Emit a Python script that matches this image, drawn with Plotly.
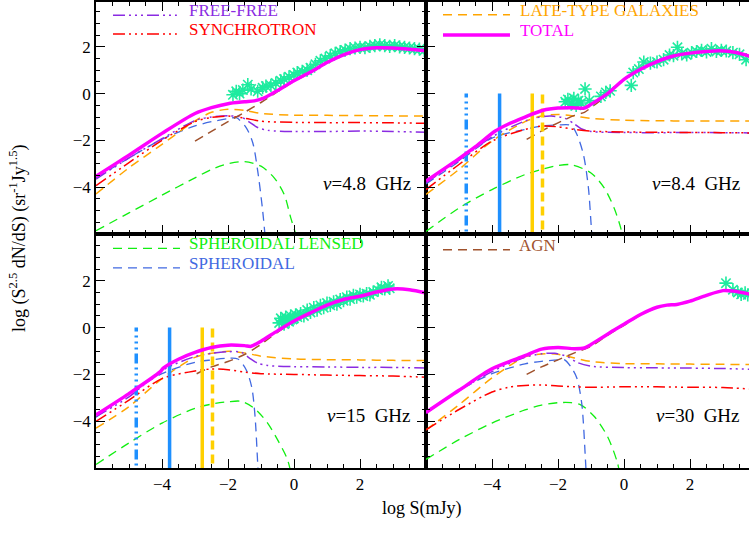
import plotly.graph_objects as go
from plotly.subplots import make_subplots

# ---------------- DATA ----------------
# 4.8 GHz panel
x_tot_48 = [-6, -5, -4, -3, -2.5, -2, -1.5, -1.2, -0.9, -0.5, 0, 0.5, 1, 1.5, 2, 2.5, 3, 3.5, 4]
y_tot_48 = [-3.53, -2.63, -1.7, -0.85, -0.6, -0.43, -0.35, -0.31, -0.18, 0.13, 0.55, 0.92, 1.33, 1.66, 1.88, 1.96, 1.95, 1.9, 1.83]
x_late_48 = [-6, -5, -4, -3, -2.5, -2, -1.5, -1, 0, 1, 2, 3, 4]
y_late_48 = [-4.29, -3.17, -2.17, -1.17, -0.8, -0.67, -0.72, -0.85, -0.92, -0.93, -0.94, -0.95, -0.96]
x_free_48 = [-6, -5, -4, -3, -2.5, -2, -1.6, -1.35, -1.1, -0.8, 0, 1, 2, 3, 4]
y_free_48 = [-3.65, -2.75, -1.93, -1.15, -1.0, -0.95, -1.0, -1.22, -1.45, -1.57, -1.62, -1.62, -1.6, -1.62, -1.65]
x_sync_48 = [-6, -5, -4, -3, -2.5, -2, -1.5, -1, 0, 1, 2, 3, 4]
y_sync_48 = [-3.93, -2.95, -2.0, -1.2, -1.02, -0.96, -1.05, -1.18, -1.23, -1.24, -1.24, -1.25, -1.27]
x_sph_48 = [-6, -5, -4, -3, -2.5, -2, -1.75, -1.45, -1.25, -1.1, -0.95, -0.85]
y_sph_48 = [-3.6, -2.75, -1.95, -1.38, -1.2, -1.07, -1.03, -1.45, -2.1, -3.3, -5.0, -6.5]
x_lens_48 = [-6, -5, -4, -3, -2.5, -2, -1.5, -1, -0.6, -0.3, -0.1, 0.05, 0.15]
y_lens_48 = [-5.86, -5.1, -4.34, -3.6, -3.24, -3.0, -2.91, -3.1, -3.6, -4.3, -5.3, -6.0, -6.6]
x_agn_48 = [-3, -2, -1.5, -1, -0.5, 0, 0.5, 1, 1.5, 2, 2.5, 3, 3.5, 4]
y_agn_48 = [-2.03, -1.2, -0.8, -0.38, 0.08, 0.52, 0.9, 1.31, 1.64, 1.86, 1.94, 1.93, 1.88, 1.81]
x_obs_48 = [-1.85, -1.75, -1.65, -1.55, -1.4, -1.3, -1.1, -0.95, -0.85, -0.7, -0.55, -0.4, -0.3,
            -0.15, 0.0, 0.1, 0.25, 0.4, 0.5, 0.65, 0.8, 0.95, 1.1, 1.25, 1.4, 1.55, 1.7, 1.85,
            2.0, 2.15, 2.3, 2.45, 2.6, 2.75, 2.9, 3.05, 3.2, 3.35, 3.5, 3.65, 3.8, 3.95]
y_obs_48 = [-0.05, 0.1, 0.0, 0.15, 0.38, 0.2, 0.1, 0.25, 0.32, 0.35, 0.45, 0.55, 0.62,
            0.72, 0.8, 0.9, 0.95, 1.0, 1.1, 1.25, 1.4, 1.5, 1.62, 1.72, 1.8, 1.86, 1.92, 1.95,
            1.98, 1.96, 2.02, 2.05, 2.08, 2.05, 2.02, 2.05, 2.0, 1.98, 1.95, 1.92, 1.9, 1.85]

# 8.4 GHz panel
x_tot_84 = [-6, -5, -4.5, -3.9, -3.5, -3, -2.45, -2, -1.5, -1.2, -1, -0.5, 0, 0.5, 1, 1.5, 2, 2.5, 2.9, 3.4, 3.8]
y_tot_84 = [-3.74, -2.78, -2.27, -1.6, -1.3, -1.0, -0.71, -0.62, -0.61, -0.62, -0.46, 0.0, 0.61, 1.04, 1.37, 1.61, 1.73, 1.8, 1.83, 1.76, 1.6]
x_late_84 = [-6, -5, -4, -3, -2.5, -2, -1.5, -1, 0, 1, 2, 3, 3.8]
y_late_84 = [-4.31, -3.24, -2.03, -1.2, -0.96, -0.89, -0.96, -1.06, -1.14, -1.16, -1.17, -1.17, -1.17]
x_free_84 = [-6, -5, -4, -3, -2.5, -2.2, -1.8, -1.5, -1.3, -1, 0, 1, 2, 3, 3.8]
y_free_84 = [-3.81, -2.85, -1.85, -1.17, -0.99, -0.96, -1.05, -1.3, -1.5, -1.62, -1.66, -1.67, -1.66, -1.67, -1.68]
x_sync_84 = [-6, -5, -4, -3, -2.5, -2, -1.5, -1, 0, 1, 2, 3, 3.8]
y_sync_84 = [-4.1, -3.03, -2.03, -1.53, -1.39, -1.42, -1.53, -1.6, -1.64, -1.65, -1.66, -1.67, -1.68]
x_sph_84 = [-6, -5, -4, -3, -2.5, -2, -1.6, -1.43, -1.23, -1.08, -0.98, -0.9]
y_sph_84 = [-3.86, -2.9, -1.9, -1.53, -1.39, -1.34, -1.36, -1.74, -2.6, -4.0, -5.9, -7.0]
x_lens_84 = [-6, -5, -4, -3, -2.5, -2, -1.6, -1, -0.6, -0.3, -0.1, 0.0]
y_lens_84 = [-5.89, -4.89, -4.1, -3.46, -3.24, -3.07, -3.04, -3.39, -4.03, -4.89, -5.74, -6.5]
x_agn_84 = [-2.95, -2.5, -2, -1.5, -1.2, -1, -0.5, 0, 0.5, 1, 1.5, 2, 2.5, 2.9, 3.4, 3.8]
y_agn_84 = [-1.96, -1.6, -1.25, -0.93, -0.8, -0.6, -0.05, 0.58, 1.02, 1.36, 1.6, 1.72, 1.79, 1.82, 1.75, 1.59]
x_obs_84 = [-1.78, -1.7, -1.6, -1.52, -1.45, -1.38, -1.3, -1.18, -1.05, -0.7, -0.55, -0.42, 0.22,
            0.28, 0.45, 0.6, 0.8, 1.0, 1.2, 1.38, 1.5, 1.62, 1.75, 1.9, 2.05, 2.2, 2.35, 2.5,
            2.65, 2.8, 2.95, 3.1, 3.3, 3.5, 3.7]
y_obs_84 = [-0.35, -0.25, -0.45, -0.2, -0.5, -0.3, -0.4, 0.2, -0.3, -0.12, 0.05, 0.12, 0.35,
            0.9, 1.05, 1.35, 1.3, 1.35, 1.45, 1.65, 1.62, 1.98, 1.7, 1.65, 1.75, 1.8, 1.85, 1.78,
            1.92, 1.8, 1.85, 1.82, 1.75, 1.68, 1.45]

# 15 GHz panel
x_tot_15 = [-6, -5, -4.05, -3.95, -3.5, -3, -2.5, -2, -1.5, -1.3, -1, -0.5, 0, 0.5, 1, 1.5, 2, 2.5, 3, 3.5, 4]
y_tot_15 = [-3.73, -2.82, -1.88, -1.72, -1.35, -1.06, -0.85, -0.75, -0.77, -0.8, -0.58, -0.14, 0.28, 0.63, 0.96, 1.2, 1.34, 1.52, 1.65, 1.62, 1.48]
x_late_15 = [-6, -5, -4, -3, -2.5, -2, -1.5, -1, 0, 1, 2, 3, 4]
y_late_15 = [-4.3, -3.38, -2.18, -1.27, -1.1, -1.01, -1.08, -1.22, -1.34, -1.37, -1.38, -1.4, -1.41]
x_free_15 = [-6, -5, -4, -3, -2.5, -2, -1.6, -1.35, -1.1, -0.8, 0, 1, 2, 3, 4]
y_free_15 = [-3.8, -2.96, -1.83, -1.24, -1.1, -1.03, -1.05, -1.3, -1.52, -1.62, -1.67, -1.68, -1.7, -1.7, -1.73]
x_sync_15 = [-6, -5, -4, -3, -2.5, -2, -1.5, -1, 0, 1, 2, 3, 4]
y_sync_15 = [-4.01, -3.1, -2.18, -1.85, -1.77, -1.8, -1.9, -1.97, -2.0, -2.03, -2.05, -2.07, -2.12]
x_sph_15 = [-6, -5, -4, -3, -2.5, -2, -1.7, -1.45, -1.28, -1.18, -1.1, -1.05]
y_sph_15 = [-3.83, -2.82, -1.97, -1.48, -1.38, -1.31, -1.34, -1.8, -2.55, -3.8, -5.8, -7.0]
x_lens_15 = [-6, -5, -4, -3, -2.5, -2, -1.6, -1.2, -0.8, -0.5, -0.2, -0.05]
y_lens_15 = [-5.85, -4.93, -4.08, -3.45, -3.27, -3.17, -3.15, -3.45, -4.08, -4.79, -5.63, -6.5]
x_agn_15 = [-2.95, -2.5, -2, -1.5, -1, -0.8, -0.5, 0, 0.5, 1, 1.5, 2, 2.5, 3, 3.5, 4]
y_agn_15 = [-1.97, -1.68, -1.45, -1.15, -0.72, -0.5, -0.2, 0.25, 0.61, 0.95, 1.19, 1.33, 1.51, 1.64, 1.61, 1.47]
x_obs_15 = [-0.45, -0.4, -0.35, -0.3, -0.25, -0.2, -0.15, -0.1, -0.05, 0.0, 0.05, 0.1, 0.2, 0.3,
            0.4, 0.5, 0.6, 0.7, 0.8, 0.9, 1.0, 1.1, 1.2, 1.3, 1.4, 1.5, 1.6, 1.7, 1.8, 1.9,
            2.0, 2.1, 2.2, 2.3, 2.4, 2.55, 2.65, 2.75, 2.85, 2.9]
y_obs_15 = [0.2, 0.4, 0.3, 0.15, 0.45, 0.3, 0.25, 0.5, 0.35, 0.4, 0.55, 0.45, 0.6, 0.5,
            0.75, 0.65, 0.85, 0.75, 0.95, 0.85, 1.05, 0.95, 1.1, 1.0, 1.2, 1.15, 1.3, 1.22, 1.38, 1.3,
            1.42, 1.35, 1.45, 1.4, 1.52, 1.6, 1.72, 1.65, 1.78, 1.68]

# 30 GHz panel
x_tot_30 = [-6, -5, -4, -3, -2.5, -2, -1.5, -1.2, -1, -0.5, 0, 0.5, 1, 1.3, 1.6, 2, 2.5, 3, 3.3, 3.8]
y_tot_30 = [-3.63, -2.68, -1.76, -1.2, -0.92, -0.85, -0.9, -0.87, -0.72, -0.28, 0.14, 0.56, 0.87, 0.96, 0.99, 1.13, 1.38, 1.58, 1.56, 1.43]
x_late_30 = [-6, -5, -4, -3, -2.5, -2, -1.5, -1, 0, 1, 2, 3, 3.8]
y_late_30 = [-4.37, -3.3, -2.15, -1.25, -1.13, -1.14, -1.3, -1.45, -1.54, -1.55, -1.56, -1.57, -1.58]
x_free_30 = [-6, -5, -4, -3, -2.5, -2.1, -1.7, -1.4, -1, 0, 1, 2, 3, 3.8]
y_free_30 = [-3.66, -2.7, -1.88, -1.27, -1.12, -1.1, -1.25, -1.5, -1.65, -1.71, -1.72, -1.73, -1.75, -1.78]
x_sync_30 = [-6, -5, -4, -3.5, -3, -2.5, -2, -1.5, -1, 0, 1, 2, 3, 3.8]
y_sync_30 = [-4.37, -3.5, -2.75, -2.55, -2.47, -2.45, -2.5, -2.53, -2.55, -2.53, -2.53, -2.55, -2.56, -2.62]
x_sph_30 = [-6, -5, -4, -3, -2.5, -2, -1.8, -1.6, -1.43, -1.28, -1.17, -1.12]
y_sph_30 = [-3.59, -2.68, -1.97, -1.55, -1.44, -1.38, -1.38, -1.7, -2.15, -3.25, -5.6, -7.0]
x_lens_30 = [-6, -5, -4, -3, -2.5, -2, -1.6, -1.3, -0.9, -0.5, -0.2, -0.1]
y_lens_30 = [-5.63, -4.79, -4.08, -3.52, -3.31, -3.21, -3.21, -3.31, -3.8, -4.65, -5.77, -6.5]
x_agn_30 = [-2.95, -2.5, -2, -1.5, -1, -0.5, 0, 0.5, 1, 1.3, 1.6, 2, 2.5, 3, 3.3, 3.8]
y_agn_30 = [-2.0, -1.68, -1.38, -1.08, -0.8, -0.33, 0.1, 0.54, 0.86, 0.95, 0.98, 1.12, 1.37, 1.57, 1.55, 1.42]
x_obs_30 = [3.09, 3.3, 3.45, 3.55, 3.67, 3.75]
y_obs_30 = [1.9, 1.62, 1.5, 1.42, 1.48, 1.4]

# vertical markers (8.4 and 15 GHz panels)
vline_x = [-4.78, -3.77, -2.78, -2.47]
vline_top = 0.0

freq_labels = ["<i>ν</i>=4.8  GHz", "<i>ν</i>=8.4  GHz", "<i>ν</i>=15  GHz", "<i>ν</i>=30  GHz"]
series_names = {"free": "FREE-FREE", "sync": "SYNCHROTRON", "late": "LATE-TYPE GALAXIES",
                "total": "TOTAL", "lens": "SPHEROIDAL LENSED", "sph": "SPHEROIDAL", "agn": "AGN"}
tick_vals = [-4, -2, 0, 2]

# ---------------- STYLE ----------------
FONT = "Liberation Serif"
DASH = "9px,6px"
DDD = "12px,4px,2px,4px,2px,4px,2px,4px"
style = {
    "total": dict(color="#FF00FF", width=3.5, dash="solid"),
    "late": dict(color="#FFA500", width=1.5, dash=DASH),
    "free": dict(color="#8A2BE2", width=1.5, dash=DDD),
    "sync": dict(color="#FF0000", width=1.5, dash=DDD),
    "sph": dict(color="#4169E1", width=1.3, dash=DASH),
    "lens": dict(color="#11EE11", width=1.3, dash=DASH),
    "agn": dict(color="#A0522D", width=1.5, dash=DASH),
}
vline_style = [
    dict(color="#1E90FF", width=3.5, dash="10px,4px,2px,4px,2px,4px,2px,4px"),
    dict(color="#1E90FF", width=3.5, dash="solid"),
    dict(color="#FFD000", width=3.5, dash="solid"),
    dict(color="#FFD000", width=3.5, dash="9px,5px"),
]
OBS_COLOR = "#1EEB9F"

panels = [
    dict(row=1, col=1, tot=(x_tot_48, y_tot_48), late=(x_late_48, y_late_48), free=(x_free_48, y_free_48),
         sync=(x_sync_48, y_sync_48), sph=(x_sph_48, y_sph_48), lens=(x_lens_48, y_lens_48),
         agn=(x_agn_48, y_agn_48), obs=(x_obs_48, y_obs_48), vlines=False),
    dict(row=1, col=2, tot=(x_tot_84, y_tot_84), late=(x_late_84, y_late_84), free=(x_free_84, y_free_84),
         sync=(x_sync_84, y_sync_84), sph=(x_sph_84, y_sph_84), lens=(x_lens_84, y_lens_84),
         agn=(x_agn_84, y_agn_84), obs=(x_obs_84, y_obs_84), vlines=True),
    dict(row=2, col=1, tot=(x_tot_15, y_tot_15), late=(x_late_15, y_late_15), free=(x_free_15, y_free_15),
         sync=(x_sync_15, y_sync_15), sph=(x_sph_15, y_sph_15), lens=(x_lens_15, y_lens_15),
         agn=(x_agn_15, y_agn_15), obs=(x_obs_15, y_obs_15), vlines=True),
    dict(row=2, col=2, tot=(x_tot_30, y_tot_30), late=(x_late_30, y_late_30), free=(x_free_30, y_free_30),
         sync=(x_sync_30, y_sync_30), sph=(x_sph_30, y_sph_30), lens=(x_lens_30, y_lens_30),
         agn=(x_agn_30, y_agn_30), obs=(x_obs_30, y_obs_30), vlines=False),
]

fig = make_subplots(rows=2, cols=2, horizontal_spacing=0, vertical_spacing=0)

Y_MIN = -6

for p in panels:
    r, c = p["row"], p["col"]
    for key in ["lens", "sph", "late", "free", "sync", "agn"]:
        xs, ys = p[key]
        fig.add_trace(go.Scatter(x=xs, y=ys, mode="lines", line=dict(**style[key], shape="spline", smoothing=0.8),
                                 showlegend=False, name=series_names[key]), row=r, col=c)
    if p["vlines"]:
        for vx, st in zip(vline_x, vline_style):
            fig.add_trace(go.Scatter(x=[vx, vx], y=[Y_MIN - 1, vline_top], mode="lines", line=st,
                                     showlegend=False), row=r, col=c)
    xo, yo = p["obs"]
    fig.add_trace(go.Scatter(x=xo, y=yo, mode="markers",
                             marker=dict(symbol="asterisk-open", size=11, color=OBS_COLOR,
                                         line=dict(color=OBS_COLOR, width=1.6)),
                             showlegend=False), row=r, col=c)
    xs, ys = p["tot"]
    fig.add_trace(go.Scatter(x=xs, y=ys, mode="lines", line=dict(**style["total"], shape="spline", smoothing=0.8),
                             showlegend=False, name="TOTAL"), row=r, col=c)

# ---------------- AXES ----------------
W, H = 749, 534
ML, MB = 96, 66
PW, PH = W - ML, H - MB
left_px, right_px = 330, PW - 330
top_px, bot_px = 233, PH - 233
xsplit = left_px / PW
ysplit = bot_px / PH
px_per_x = left_px / 10.0
px_per_y = bot_px / 10.0

axis_common = dict(showline=True, linecolor="black", linewidth=1.6, ticks="inside", ticklen=9,
                   tickwidth=1.4, tickcolor="black", showgrid=False, zeroline=False,
                   tickmode="array", tickvals=tick_vals,
                   tickfont=dict(family=FONT, size=17, color="black"),
                   minor=dict(tickmode="linear", tick0=0, dtick=0.5, ticks="inside", ticklen=4.5,
                              tickwidth=1.2, tickcolor="black", showgrid=False))

x_right_max = -6 + right_px / px_per_x
y_top_max = -6 + top_px / px_per_y

for i, (xa, ya) in enumerate([("xaxis", "yaxis"), ("xaxis2", "yaxis2"), ("xaxis3", "yaxis3"), ("xaxis4", "yaxis4")]):
    row = 1 if i < 2 else 2
    col = 1 if i % 2 == 0 else 2
    xdom = [0, xsplit] if col == 1 else [xsplit, 1]
    ydom = [ysplit, 1] if row == 1 else [0, ysplit]
    xr = [-6, 4] if col == 1 else [-6, x_right_max]
    yr = [-6, y_top_max] if row == 1 else [-6, 4]
    fig.layout[xa].update(domain=xdom, range=xr, mirror="ticks", showticklabels=(row == 2), **axis_common)
    fig.layout[ya].update(domain=ydom, range=yr, mirror=("ticks" if col == 1 else False),
                          showticklabels=(col == 1), **axis_common)

# ---------------- FREQUENCY LABELS ----------------
annotations = []
label_pos = [(3.6, -3.85), (3.58, -3.85), (3.6, -3.75), (3.58, -3.75)]
for i, (lab, (lx, ly)) in enumerate(zip(freq_labels, label_pos)):
    sfx = "" if i == 0 else str(i + 1)
    annotations.append(dict(x=lx, y=ly, xref="x" + sfx, yref="y" + sfx, text=lab, showarrow=False,
                            xanchor="right", yanchor="middle", font=dict(family=FONT, size=19, color="black")))

# ---------------- LEGEND (line sample + coloured label) ----------------
legend_layout = [
    ("", "free", 0.0515, 0.245, 0.276, 0.963),
    ("", "sync", 0.0515, 0.245, 0.276, 0.882),
    ("2", "late", 0.0526, 0.26, 0.285, 0.965),
    ("2", "total", 0.0526, 0.26, 0.285, 0.878),
    ("3", "lens", 0.0515, 0.2545, 0.276, 0.959),
    ("3", "sph", 0.0515, 0.2545, 0.276, 0.875),
    ("4", "agn", 0.0526, 0.26, 0.282, 0.953),
]
shapes = []
for sfx, key, x0, x1, xt, yt in legend_layout:
    st = style[key]
    yl = yt - 0.02
    shapes.append(dict(type="line", xref="x%s domain" % sfx, yref="y%s domain" % sfx,
                       x0=x0, x1=x1, y0=yl, y1=yl,
                       line=dict(color=st["color"], width=st["width"], dash=st["dash"])))
    annotations.append(dict(x=xt, y=yt, xref="x%s domain" % sfx, yref="y%s domain" % sfx,
                            text=series_names[key], showarrow=False, xanchor="left", yanchor="middle",
                            font=dict(family=FONT, size=17, color=st["color"])))

# ---------------- AXIS TITLES ----------------
annotations.append(dict(x=(18 - ML) / PW, y=(PH - 237) / PH, xref="paper", yref="paper",
                        text="log (S<sup>2.5</sup> dN/dS) (sr<sup>-1</sup>Jy<sup>1.5</sup>)",
                        textangle=-90, showarrow=False, xanchor="center", yanchor="middle",
                        font=dict(family=FONT, size=18, color="black")))
annotations.append(dict(x=(422 - ML) / PW, y=(PH - 509) / PH, xref="paper", yref="paper",
                        text="log S(mJy)", showarrow=False, xanchor="center", yanchor="middle",
                        font=dict(family=FONT, size=18, color="black")))

fig.update_layout(width=W, height=H, margin=dict(l=ML, r=0, t=0, b=MB),
                  plot_bgcolor="white", paper_bgcolor="white",
                  annotations=annotations, shapes=shapes, showlegend=False)

fig.write_html("out.html", config={"displayModeBar": False},
               post_script="document.body.style.margin='0px';document.body.style.overflow='hidden';")
